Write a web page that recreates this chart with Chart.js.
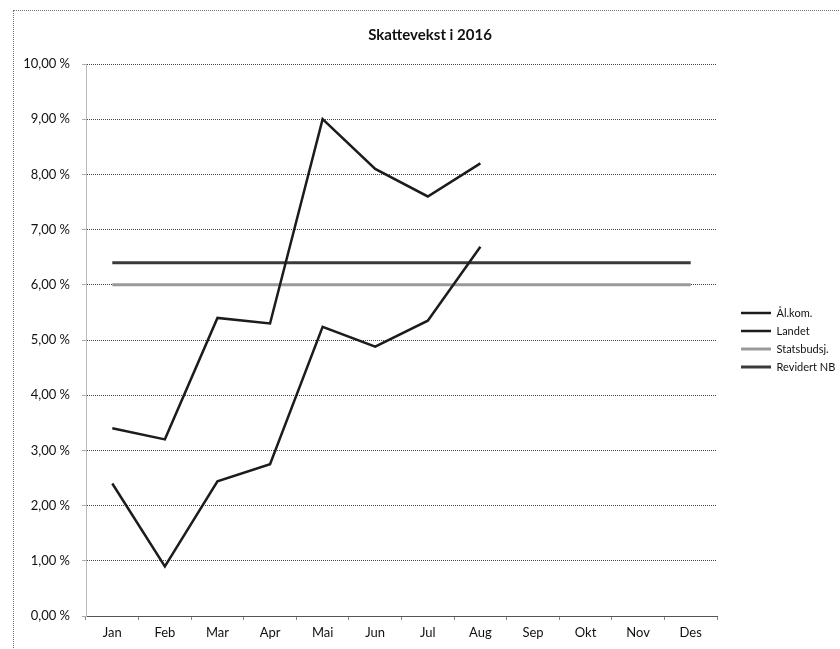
<!DOCTYPE html>
<html>
<head>
<meta charset="utf-8">
<title>Skattevekst i 2016</title>
<script src="https://cdn.jsdelivr.net/npm/chart.js@4.4.1/dist/chart.umd.min.js"></script>
<style>
  body { margin: 0; background: #fff; }
  #wrap { position: relative; width: 840px; height: 649px; overflow: hidden; }
  #frame { position: absolute; left: 13px; top: 10px; width: 900px; height: 700px; border: 1px dotted #777; }
  #skatt-chart { position: absolute; left: 0; top: 0; }
</style>
</head>
<body>
<div id="wrap">
  <div id="frame"></div>
  <canvas id="skatt-chart" width="840" height="649"></canvas>
</div>
<script>
// Data (percent)
const months = ["Jan", "Feb", "Mar", "Apr", "Mai", "Jun", "Jul", "Aug", "Sep", "Okt", "Nov", "Des"];
const alKom = [3.40, 3.20, 5.40, 5.30, 9.00, 8.10, 7.60, 8.20, null, null, null, null];
const landet = [2.40, 0.90, 2.44, 2.75, 5.24, 4.88, 5.35, 6.69, null, null, null, null];
const statsbudsj = [6.0, 6.0, 6.0, 6.0, 6.0, 6.0, 6.0, 6.0, 6.0, 6.0, 6.0, 6.0];
const revidertNB = [6.4, 6.4, 6.4, 6.4, 6.4, 6.4, 6.4, 6.4, 6.4, 6.4, 6.4, 6.4];

const fontName = "Lato, 'Open Sans', sans-serif";

function pct(v) {
  return v.toFixed(2).replace(".", ",") + " %";
}

const ctx = document.getElementById("skatt-chart").getContext("2d");

new Chart(ctx, {
  type: "line",
  data: {
    labels: months,
    datasets: [
      { label: "Ål.kom.", data: alKom, borderColor: "#1c1c1c", backgroundColor: "#1c1c1c", borderWidth: 2.5 },
      { label: "Landet", data: landet, borderColor: "#1c1c1c", backgroundColor: "#1c1c1c", borderWidth: 2.5 },
      { label: "Statsbudsj.", data: statsbudsj, borderColor: "#9a9a9a", backgroundColor: "#9a9a9a", borderWidth: 3 },
      { label: "Revidert NB", data: revidertNB, borderColor: "#3a3a3a", backgroundColor: "#3a3a3a", borderWidth: 3 }
    ]
  },
  options: {
    responsive: false,
    devicePixelRatio: 1,
    animation: false,
    spanGaps: false,
    elements: {
      point: { radius: 0, hoverRadius: 0 },
      line: { tension: 0 }
    },
    layout: { padding: { left: 20, right: 0, top: 0, bottom: 0 } },
    plugins: {
      title: {
        display: true,
        text: "Skattevekst i 2016",
        color: "#111",
        font: { family: fontName, size: 15, weight: "bold" },
        padding: { top: 26, bottom: 20 }
      },
      legend: {
        display: true,
        position: "right",
        fullSize: false,
        maxWidth: 106,
        labels: {
          usePointStyle: true,
          pointStyle: "line",
          pointStyleWidth: 30,
          padding: 7,
          color: "#111",
          font: { family: fontName, size: 11 }
        }
      },
      tooltip: { enabled: false }
    },
    scales: {
      x: {
        offset: true,
        grid: { offset: true, drawOnChartArea: false, drawTicks: true, tickLength: 4, color: "#888" },
        border: { display: true, color: "#555", dash: [1, 1] },
        ticks: { padding: 5, color: "#111", font: { family: fontName, size: 13 } },
        afterFit: (scale) => { scale.height = 33; }
      },
      y: {
        min: 0,
        max: 10,
        grid: { color: "#444", tickLength: 4, tickColor: "#aaa" },
        border: { display: true, color: "#bbb", dash: [1, 1] },
        ticks: {
          stepSize: 1,
          padding: 12,
          color: "#111",
          font: { family: fontName, size: 13 },
          callback: (v) => pct(v)
        },
        afterFit: (scale) => { scale.width = 66; }
      },
      // empty spacer between plot and legend
      gap: {
        type: "linear",
        position: "right",
        display: true,
        grid: { display: false },
        ticks: { display: false },
        border: { display: false },
        afterFit: (scale) => { scale.width = 17; }
      }
    }
  }
});
</script>
</body>
</html>
